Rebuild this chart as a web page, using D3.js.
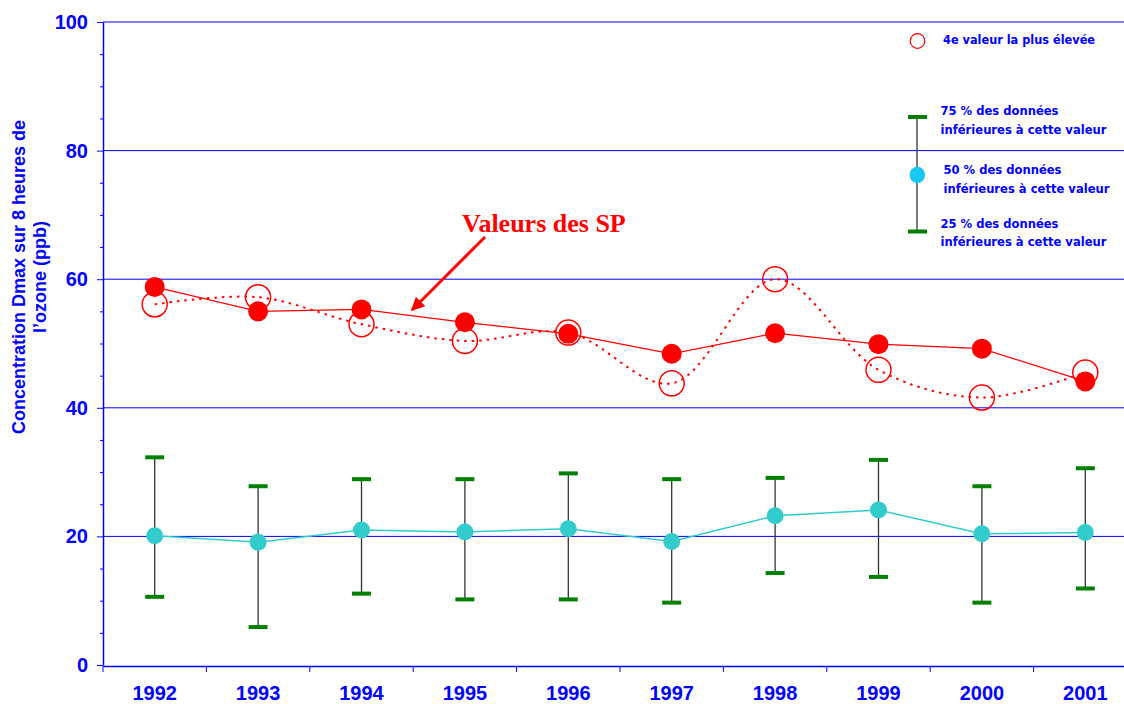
<!DOCTYPE html>
<html><head><meta charset="utf-8">
<script src="https://cdn.jsdelivr.net/npm/d3@7/dist/d3.min.js"></script>
<style>body{margin:0;background:#fff}svg{display:block}</style>
</head><body><svg id="c" width="1124" height="704"></svg>
<script>
const years = ["1992","1993","1994","1995","1996","1997","1998","1999","2000","2001"];
const spValues = [58.8, 55.0, 55.3, 53.3, 51.5, 48.4, 51.6, 49.9, 49.2, 44.1];
const fourthHighest = [56.1, 57.2, 53.0, 50.4, 51.7, 43.8, 60.0, 45.9, 41.6, 45.5];
const p50 = [20.1, 19.1, 21.0, 20.7, 21.2, 19.2, 23.2, 24.1, 20.4, 20.6];
const p75 = [32.3, 27.8, 28.9, 28.9, 29.8, 28.9, 29.1, 31.9, 27.8, 30.6];
const p25 = [10.6, 5.9, 11.1, 10.2, 10.2, 9.7, 14.3, 13.7, 9.7, 11.9];
const yTicks = [0, 20, 40, 60, 80, 100];
const yTitle = ["Concentration Dmax sur 8 heures de", "l\u2019ozone (ppb)"];
const annotation = "Valeurs des SP";
const legendLabels = {
  fourth: "4e valeur la plus élevée",
  p75: ["75 % des données", "inférieures à cette valeur"],
  p50: ["50 % des données", "inférieures à cette valeur"],
  p25: ["25 % des données", "inférieures à cette valeur"]
};

const BLUE = "#0000ff", RED = "#ff0000", GREEN = "#008000", CYAN = "#33cccc";
const svg = d3.select("#c");
const W = 1124;
const x = d3.scaleBand().domain(years).range([103, 1137]);
const y = d3.scaleLinear().domain([0, 100]).range([665, 22]);
const cx = d => x(d) + x.bandwidth() / 2;

// gridlines
svg.append("g").selectAll("line").data(yTicks.filter(t => t > 0)).join("line")
  .attr("x1", 103).attr("x2", W).attr("y1", d => y(d)).attr("y2", d => y(d))
  .attr("stroke", BLUE).attr("stroke-width", 1);

// y axis minor ticks
const minor = d3.range(0, 101, 5).filter(v => v % 20 !== 0);
svg.append("g").attr("transform", "translate(103,0)")
  .call(d3.axisLeft(y).tickValues(minor).tickSize(3).tickFormat(""))
  .call(g => g.select(".domain").remove())
  .selectAll("line").attr("stroke", BLUE);
// y axis major
const yAx = svg.append("g").attr("transform", "translate(103,0)")
  .call(d3.axisLeft(y).tickValues(yTicks).tickSize(6).tickPadding(9).tickSizeOuter(0));
yAx.select(".domain").attr("stroke", BLUE).attr("stroke-width", 1.5);
yAx.selectAll("line").attr("stroke", BLUE);
yAx.selectAll("text").attr("fill", BLUE).style("font", "bold 20px 'Liberation Sans', Arial, sans-serif");

// x axis
const xAx = svg.append("g").attr("transform", `translate(0,${y(0) + 1})`)
  .call(d3.axisBottom(x).tickSize(0).tickPadding(20).tickSizeOuter(0));
xAx.select(".domain").attr("stroke", BLUE).attr("stroke-width", 1.5);
xAx.selectAll("text").attr("fill", BLUE).style("font", "bold 20px 'Liberation Sans', Arial, sans-serif");
svg.append("g").selectAll("line").data(years.map(d => x(d)).concat([x.range()[1]])).join("line")
  .attr("x1", d => d).attr("x2", d => d).attr("y1", y(0) + 1).attr("y2", y(0) + 7)
  .attr("stroke", BLUE).attr("stroke-width", 1);

// y title
const yt = svg.append("text").attr("transform", `translate(25,${277}) rotate(-90)`)
  .attr("text-anchor", "middle").attr("fill", BLUE)
  .style("font", "bold 18px 'Liberation Sans', Arial, sans-serif");
yt.append("tspan").attr("x", 0).attr("y", 0).text(yTitle[0]);
yt.append("tspan").attr("x", 0).attr("y", 21).text(yTitle[1]);

// whiskers
const wk = svg.append("g");
wk.selectAll("line.v").data(years).join("line").attr("class", "v")
  .attr("x1", d => cx(d)).attr("x2", d => cx(d))
  .attr("y1", (d, i) => y(p75[i])).attr("y2", (d, i) => y(p25[i]))
  .attr("stroke", "#333").attr("stroke-width", 1.3);
[p75, p25].forEach(arr => {
  wk.append("g").selectAll("line").data(years).join("line")
    .attr("x1", d => cx(d) - 9.5).attr("x2", d => cx(d) + 9.5)
    .attr("y1", (d, i) => y(arr[i])).attr("y2", (d, i) => y(arr[i]))
    .attr("stroke", GREEN).attr("stroke-width", 4);
});

// median line & points
svg.append("path").datum(p50)
  .attr("d", d3.line().x((d, i) => cx(years[i])).y(d => y(d)))
  .attr("fill", "none").attr("stroke", CYAN).attr("stroke-width", 1.5);
svg.append("g").selectAll("circle").data(p50).join("circle")
  .attr("cx", (d, i) => cx(years[i])).attr("cy", d => y(d)).attr("r", 8.5).attr("fill", CYAN);

// 4th highest dotted smoothed line
svg.append("path").datum(fourthHighest)
  .attr("d", d3.line().x((d, i) => cx(years[i])).y(d => y(d)).curve(d3.curveCatmullRom.alpha(0.5)))
  .attr("fill", "none").attr("stroke", RED).attr("stroke-width", 2).attr("stroke-dasharray", "2.5,5");
// SP solid line
svg.append("path").datum(spValues)
  .attr("d", d3.line().x((d, i) => cx(years[i])).y(d => y(d)))
  .attr("fill", "none").attr("stroke", RED).attr("stroke-width", 1.2);
svg.append("g").selectAll("circle").data(fourthHighest).join("circle")
  .attr("cx", (d, i) => cx(years[i])).attr("cy", d => y(d)).attr("r", 12.5)
  .attr("fill", "none").attr("stroke", RED).attr("stroke-width", 1.5);
svg.append("g").selectAll("circle").data(spValues).join("circle")
  .attr("cx", (d, i) => cx(years[i])).attr("cy", d => y(d)).attr("r", 10).attr("fill", RED);

// annotation
svg.append("text").attr("x", 462).attr("y", 232).attr("fill", RED)
  .style("font", "bold 26px 'Liberation Serif', 'Times New Roman', serif").text(annotation);
svg.append("defs").append("marker").attr("id", "ah").attr("viewBox", "0 0 10 10")
  .attr("refX", 9).attr("refY", 5).attr("markerWidth", 5).attr("markerHeight", 4.5)
  .attr("orient", "auto").attr("markerUnits", "strokeWidth")
  .append("path").attr("d", "M0,0L10,5L0,10z").attr("fill", RED);
svg.append("line").attr("x1", 485).attr("y1", 237).attr("x2", 412).attr("y2", 310)
  .attr("stroke", RED).attr("stroke-width", 3).attr("marker-end", "url(#ah)");

// legend
const lg = svg.append("g");
const lfont = "bold 12px 'DejaVu Sans', Verdana, sans-serif";
lg.append("circle").attr("cx", 917.5).attr("cy", 41).attr("r", 7.3)
  .attr("fill", "none").attr("stroke", RED).attr("stroke-width", 1.2);
lg.append("text").attr("x", 943).attr("y", 44).attr("fill", BLUE).style("font", lfont)
  .attr("textLength", 152).attr("lengthAdjust", "spacingAndGlyphs").text(legendLabels.fourth);
lg.append("line").attr("x1", 917).attr("x2", 917).attr("y1", 117).attr("y2", 231.5)
  .attr("stroke", "#333").attr("stroke-width", 1.3);
[117, 231.5].forEach(v => lg.append("line").attr("x1", 908).attr("x2", 927).attr("y1", v).attr("y2", v)
  .attr("stroke", GREEN).attr("stroke-width", 4));
lg.append("ellipse").attr("cx", 917.3).attr("cy", 175).attr("rx", 7.8).attr("ry", 8.3).attr("fill", "#16c8f2");
[[legendLabels.p75, 940.5, 115], [legendLabels.p50, 943.5, 174], [legendLabels.p25, 940.5, 227.5]].forEach(([lines, lx, ly]) => {
  lines.forEach((t, k) => lg.append("text").attr("x", lx).attr("y", ly + k * 18.5)
    .attr("fill", BLUE).style("font", lfont)
    .attr("textLength", k === 0 ? 118 : 166).attr("lengthAdjust", "spacingAndGlyphs").text(t));
});
</script></body></html>
